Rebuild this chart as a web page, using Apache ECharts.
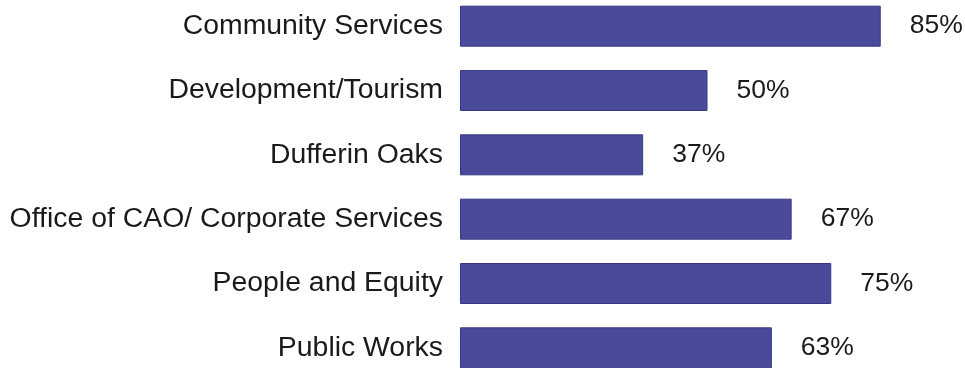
<!DOCTYPE html>
<html>
<head>
<meta charset="utf-8">
<script src="https://cdn.jsdelivr.net/npm/echarts@6/dist/echarts.min.js"></script>
<style>
  html, body { margin: 0; padding: 0; background: #ffffff; overflow: hidden; }
  #chart { position: absolute; left: 0; top: -6px; width: 965px; height: 386px; }
</style>
</head>
<body>
<div id="chart"></div>
<script>
// Share of each department, in percent
const departments = [
  'Community Services',
  'Development/Tourism',
  'Dufferin Oaks',
  'Office of CAO/ Corporate Services',
  'People and Equity',
  'Public Works'
];
const percentages = [85, 50, 37, 67, 75, 63];

const chart = echarts.init(document.getElementById('chart'), null, { renderer: 'canvas' });

const textFont = 'Liberation Sans, Arial, sans-serif';

chart.setOption({
  animation: false,
  backgroundColor: '#ffffff',
  grid: { left: 460, right: 10, top: 0, bottom: 0, containLabel: false },
  xAxis: {
    type: 'value',
    min: 0,
    max: 100,
    show: false
  },
  yAxis: {
    type: 'category',
    data: departments,
    inverse: true,
    axisLine: { show: false },
    axisTick: { show: false },
    splitLine: { show: false },
    axisLabel: {
      margin: 17,
      color: '#1a1a1a',
      fontFamily: textFont,
      fontSize: 28.4
    }
  },
  series: [{
    type: 'bar',
    data: percentages,
    barWidth: 41,
    itemStyle: {
      color: '#4a4a9a',
      borderColor: '#383882',
      borderWidth: 1
    },
    label: {
      show: true,
      position: 'right',
      distance: 29,
      formatter: '{c}%',
      color: '#1a1a1a',
      fontFamily: textFont,
      fontSize: 26.5
    }
  }]
});
</script>
</body>
</html>
